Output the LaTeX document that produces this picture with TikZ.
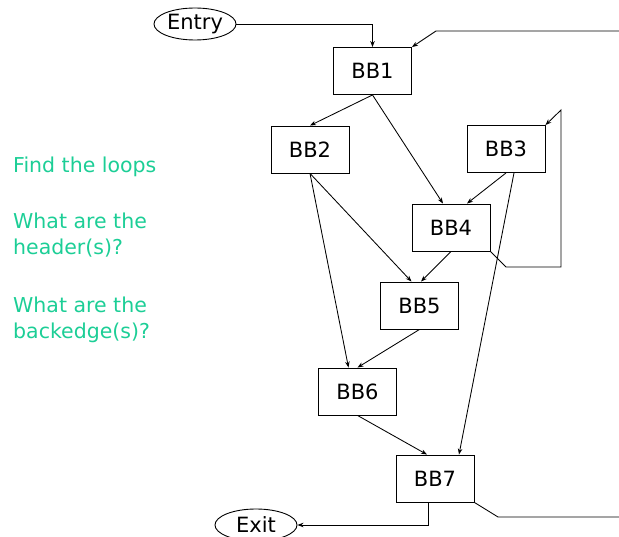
\documentclass[tikz,border=0pt]{standalone}
\usepackage{fontspec}
\setmainfont{DejaVu Sans}
\usetikzlibrary{shapes.geometric,arrows.meta}
\definecolor{qcolor}{RGB}{28,206,150}
\begin{document}
\begin{tikzpicture}[x=1pt,y=-1pt,
  bbox/.style={draw,line width=0.9pt,minimum width=78pt,minimum height=47pt,inner sep=0pt,
    font=\fontsize{21}{25}\selectfont},
  term/.style={draw,ellipse,line width=0.9pt,minimum width=82pt,minimum height=32pt,inner sep=0pt,
    font=\fontsize{21}{25}\selectfont},
  edge/.style={line width=0.85pt,-{Stealth[length=6pt,width=4.5pt]}},
  plain/.style={line width=0.85pt},
  qtext/.style={anchor=base west,inner sep=0pt,text=qcolor,font=\fontsize{20.5}{24}\selectfont}]
\useasboundingbox (0,0) rectangle (619,537);

% basic blocks
\node[term] (entry) at (195,24) {Entry};
\node[bbox] (BB1) at (372.5,71) {BB1};
\node[bbox] (BB2) at (310,149.5) {BB2};
\node[bbox] (BB3) at (506,149) {BB3};
\node[bbox] (BB4) at (451,227.5) {BB4};
\node[bbox] (BB5) at (419.5,305.5) {BB5};
\node[bbox] (BB6) at (357.5,391.5) {BB6};
\node[bbox] (BB7) at (435,478.5) {BB7};
\node[term] (exit) at (256,525) {Exit};

% questions
\node[qtext] (q1) at (13,173) {Find the loops};
\node[qtext] (q2) at (13,229) {What are the};
\node[qtext] (q3) at (13,255) {header(s)?};
\node[qtext] (q4) at (13,313) {What are the};
\node[qtext] (q5) at (13,339) {backedge(s)?};

% off-page ends of the incoming and outgoing edges
\coordinate (inR) at (619,31);
\coordinate (inK) at (436,31);
\coordinate (outK) at (498,517);
\coordinate (outR) at (619,517);
\coordinate (b1) at (506,267);
\coordinate (b2) at (561,267);
\coordinate (b3) at (561,110);

% forward edges
\draw[edge] (entry.east) -| (BB1.north);
\draw[edge] (inR) -- (inK) -- (BB1.north east);
\draw[edge] (BB1.south) -- (BB2.north);
\draw[edge] (BB1.south) -- ([xshift=-8pt]BB4.north);
\draw[edge] (BB3.south) -- ([xshift=16pt]BB4.north);
\draw[edge] ([xshift=8pt]BB3.south) -- ([xshift=24pt]BB7.north);
\draw[edge] (BB2.south) -- ([xshift=-8pt]BB5.north);
\draw[edge] (BB2.south) -- ([xshift=-9pt]BB6.north);
\draw[edge] (BB4.south) -- ([xshift=1.5pt]BB5.north);
\draw[edge] (BB5.south) -- (BB6.north);
\draw[edge] (BB6.south) -- ([xshift=-8pt]BB7.north);
\draw[edge] ([xshift=-7pt]BB7.south) |- (exit.east);
\draw[plain] (BB7.south east) -- (outK) -- (outR);

% loop edge from BB4 back to BB3
\draw[edge] (BB4.south east) -- (b1) -- (b2) -- (b3) -- (BB3.north east);
\end{tikzpicture}
\end{document}
